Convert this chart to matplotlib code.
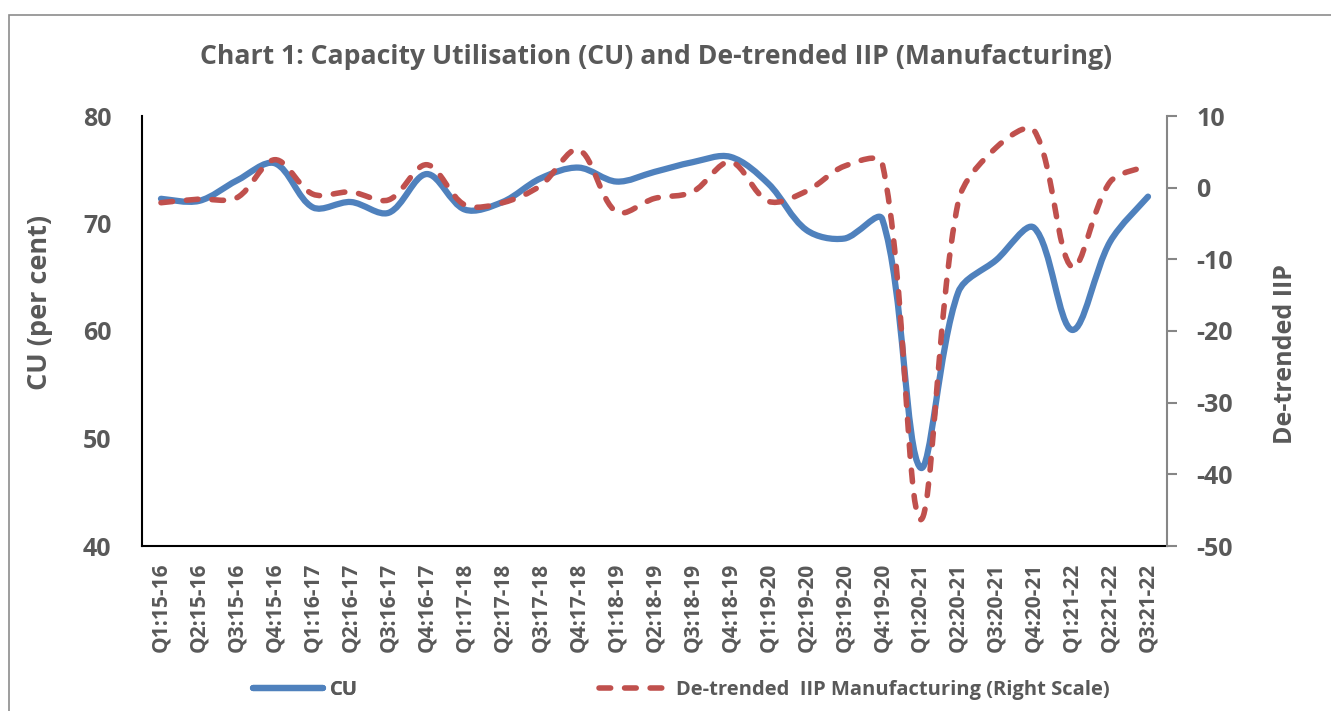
import matplotlib
matplotlib.use("Agg")
import matplotlib.pyplot as plt
from matplotlib.path import Path
from matplotlib.patches import PathPatch, Rectangle
from matplotlib.lines import Line2D
import numpy as np

plt.rcParams["axes.unicode_minus"] = False

quarters = ["Q1:15-16", "Q2:15-16", "Q3:15-16", "Q4:15-16",
            "Q1:16-17", "Q2:16-17", "Q3:16-17", "Q4:16-17",
            "Q1:17-18", "Q2:17-18", "Q3:17-18", "Q4:17-18",
            "Q1:18-19", "Q2:18-19", "Q3:18-19", "Q4:18-19",
            "Q1:19-20", "Q2:19-20", "Q3:19-20", "Q4:19-20",
            "Q1:20-21", "Q2:20-21", "Q3:20-21", "Q4:20-21",
            "Q1:21-22", "Q2:21-22", "Q3:21-22"]

cu = [72.3, 72.1, 74.0, 75.6, 71.5, 72.0, 71.0, 74.6, 71.3, 72.0,
      74.2, 75.2, 73.9, 74.8, 75.7, 76.2, 73.7, 69.4, 68.6, 70.4,
      47.3, 63.6, 66.6, 69.6, 60.1, 68.3, 72.5]

iip = [-2.1, -1.6, -1.4, 3.9, -0.9, -0.6, -1.7, 3.2, -2.4, -2.1,
       0.3, 5.3, -3.4, -1.5, -0.6, 3.6, -1.9, -0.5, 3.0, 3.4,
       -46.3, -2.0, 5.6, 8.0, -11.1, 0.8, 3.0]

cu_label = "CU"
iip_label = "De-trended  IIP Manufacturing (Right Scale)"
title = "Chart 1: Capacity Utilisation (CU) and De-trended IIP (Manufacturing)"

BLUE = "#4F81BD"
RED = "#C0504D"
GREY = "#595959"
FONT = "Open Sans"


def smooth_path(axis, xs, ys):
    """Excel-like smoothed line built as cubic Bezier segments in screen space."""
    data = np.column_stack([xs, ys]).astype(float)
    P = axis.transData.transform(data)
    n = len(P)
    L = np.linalg.norm(np.diff(P, axis=0), axis=1)
    verts = [P[0]]
    codes = [Path.MOVETO]
    for i in range(n - 1):
        p1, p2 = P[i], P[i + 1]
        if i == 0:
            c1 = p1 + (p2 - p1) / 6.0
        else:
            d = P[i + 1] - P[i - 1]
            c1 = p1 + d * (L[i] / (L[i - 1] + L[i])) / 3.0
        if i + 1 == n - 1:
            c2 = p2 - (p2 - p1) / 6.0
        else:
            d = P[i + 2] - P[i]
            c2 = p2 - d * (L[i] / (L[i] + L[i + 1])) / 3.0
        verts += [c1, c2, p2]
        codes += [Path.CURVE4] * 3
    verts = axis.transData.inverted().transform(np.array(verts))
    return Path(verts, codes)


W, H = 1331, 711
fig = plt.figure(figsize=(W / 100, H / 100), dpi=100)
fig.patch.set_facecolor("white")

# outer chart border
fig.patches.append(Rectangle((9 / W, -0.05), 1.2, 1 - 15 / H + 0.05,
                             transform=fig.transFigure, fill=False,
                             edgecolor="#8C8C8C", lw=1.2))

left, right = 142 / W, 1167 / W
top, bottom = 1 - 116 / H, 1 - 546 / H
ax = fig.add_axes([left, bottom, right - left, top - bottom])
ax2 = ax.twinx()

x = np.arange(len(quarters))
ax.set_xlim(-0.5, len(quarters) - 0.5)
ax.set_ylim(40, 80)
ax2.set_ylim(-50, 10)

p_cu = PathPatch(smooth_path(ax, x, cu), fill=False, edgecolor=BLUE, lw=4.5,
                 capstyle="round", joinstyle="round", zorder=3)
ax.add_patch(p_cu)
p_iip = PathPatch(smooth_path(ax2, x, iip), fill=False, edgecolor=RED, lw=4.0,
                  linestyle=(0, (2.1, 2.5)), capstyle="round",
                  joinstyle="round", zorder=3)
ax2.add_patch(p_iip)

ax.set_yticks([40, 50, 60, 70, 80])
ax2.set_yticks([-50, -40, -30, -20, -10, 0, 10])
ax.set_xticks(x)
ax.set_xticklabels(quarters, rotation=90, fontsize=15, fontweight="bold",
                   color=GREY, family=FONT)
ax.tick_params(axis="x", length=0, pad=12)
ax.tick_params(axis="y", length=0, pad=22, labelsize=18, labelcolor=GREY)
ax2.tick_params(axis="y", length=7, width=1.5, color="#868686", pad=14,
                labelsize=18, labelcolor=GREY)
for lab in ax.get_yticklabels() + ax2.get_yticklabels():
    lab.set_fontweight("bold")
    lab.set_family(FONT)

ax.spines["top"].set_visible(False)
ax2.spines["top"].set_visible(False)
ax.spines["right"].set_visible(False)
ax2.spines["left"].set_visible(False)
ax2.spines["bottom"].set_visible(False)
ax.spines["left"].set_color("black")
ax.spines["left"].set_linewidth(1.5)
ax.spines["bottom"].set_color("black")
ax.spines["bottom"].set_linewidth(1.5)
ax2.spines["right"].set_color("#868686")
ax2.spines["right"].set_linewidth(1.5)

fig.text(40 / W, 1 - 302 / H, "CU (per cent)", rotation=90, ha="center",
         va="center", fontsize=19.5, fontweight="bold", color=GREY, family=FONT)
fig.text(1285 / W, 1 - 354 / H, "De-trended IIP", rotation=90, ha="center",
         va="center", fontsize=18, fontweight="bold", color=GREY, family=FONT)

fig.text(656 / W, 1 - 57 / H, title, ha="center", va="center", fontsize=19.2,
         fontweight="bold", color=GREY, family=FONT)

handles = [Line2D([], [], color=BLUE, lw=4.5, solid_capstyle="round"),
           Line2D([], [], color=RED, lw=4.0, linestyle=(0, (2.1, 2.5)),
                  dash_capstyle="round")]
leg1 = fig.legend([handles[0]], [cu_label], loc="center left",
                  bbox_to_anchor=(253 / W, 1 - 690 / H), frameon=False,
                  handlelength=3.5, handletextpad=0.3, borderpad=0, borderaxespad=0,
                  prop={"family": FONT, "weight": "bold", "size": 14.5})
leg2 = fig.legend([handles[1]], [iip_label], loc="center left",
                  bbox_to_anchor=(599 / W, 1 - 690 / H), frameon=False,
                  handlelength=3.2, handletextpad=0.6, borderpad=0, borderaxespad=0,
                  prop={"family": FONT, "weight": "bold", "size": 14.5})
for lg in (leg1, leg2):
    for t in lg.get_texts():
        t.set_color(GREY)
fig.add_artist(leg1)

fig.savefig("out.png", dpi=100, facecolor="white")
